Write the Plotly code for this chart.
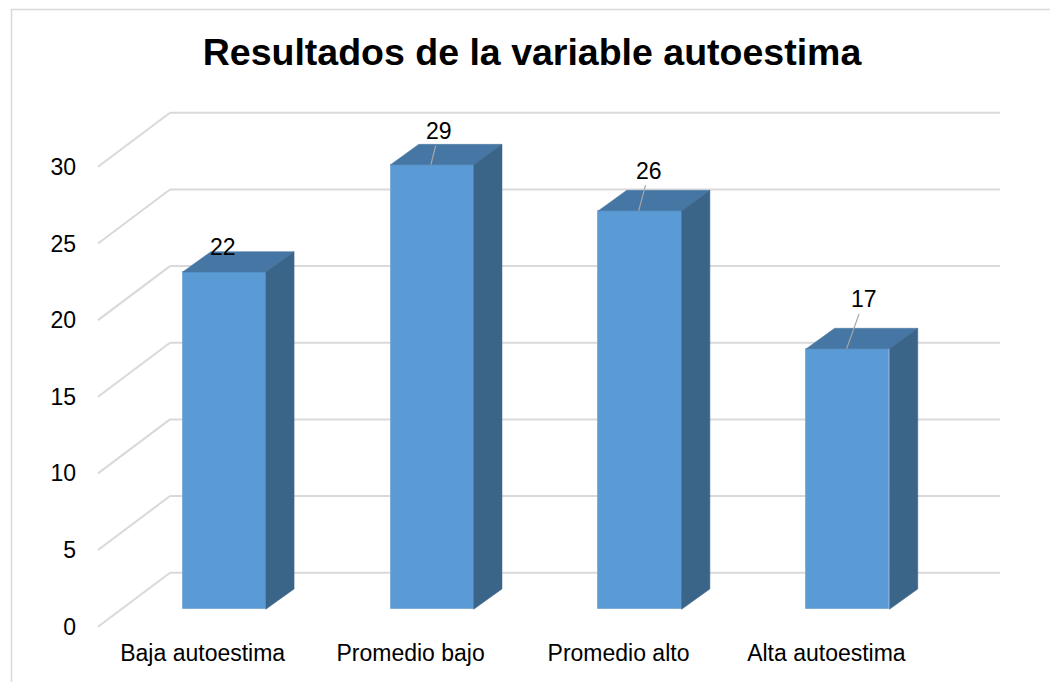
import plotly.graph_objects as go

# ---------------- data ----------------
categories = ["Baja autoestima", "Promedio bajo", "Promedio alto", "Alta autoestima"]
values = [22, 29, 26, 17]
y_ticks = [0, 5, 10, 15, 20, 25, 30]
title_text = "Resultados de la variable autoestima"

# ---------------- style / geometry ----------------
W, H = 1050, 682
M_L, M_R, M_T, M_B = 85, 0, 90, 52
PX_PER_UNIT = 15.33      # vertical pixels per value unit
Y0_PIX = 626.7           # pixel row of value 0 on the front plane
X0_PIX = 224.2           # pixel column of first category (bar centre)
PX_PER_CAT = 207.9       # pixels between categories

BAR_W = 0.40             # bar width, category units
BAR_BASE = 17.4 / PX_PER_UNIT           # bars sit a bit behind the front plane
BAR_DX = 28.3 / PX_PER_CAT              # bar depth (x)
BAR_DY = 20.4 / PX_PER_UNIT             # bar depth (y)
WALL_DY = 54.0 / PX_PER_UNIT            # back wall depth (y)
WALL_X0 = (170 - X0_PIX) / PX_PER_CAT   # back wall left edge
WALL_X1 = (1000 - X0_PIX) / PX_PER_CAT  # back wall right edge
FRONT_X0 = (98 - X0_PIX) / PX_PER_CAT   # front-left edge of floor grid
LABEL_SHIFT = -21.5 / PX_PER_CAT        # category labels sit at front floor edge

C_FRONT = "#5B9BD5"
C_TOP = "#4676A3"
C_SIDE = "#3A6488"
C_GRID = "#D9D9D9"
FONT = "Liberation Sans, Arial, sans-serif"

# data label offsets (pixels, relative to the front-top centre of each bar)
label_ax = [-1, 8.5, 10.6, 17.6]
label_ay = [-25, -33.7, -40, -49.3]
label_arrow = [False, True, True, True]

xr = [(M_L - X0_PIX) / PX_PER_CAT, (W - M_R - X0_PIX) / PX_PER_CAT]
yr = [(Y0_PIX - (H - M_B)) / PX_PER_UNIT, (Y0_PIX - M_T) / PX_PER_UNIT]

fig = go.Figure()

# front faces
xs = list(range(len(categories)))
fig.add_trace(go.Bar(
    x=xs, y=values, base=[BAR_BASE] * len(values), width=BAR_W,
    marker=dict(color=C_FRONT, line=dict(color="#7FAEDD", width=1)),
    hoverinfo="skip", showlegend=False,
))

# top and side faces
for i, v in enumerate(values):
    xl = i - BAR_W / 2
    xrt = i + BAR_W / 2
    top = BAR_BASE + v
    bot = BAR_BASE
    fig.add_trace(go.Scatter(
        x=[xl, xrt, xrt + BAR_DX, xl + BAR_DX, xl],
        y=[top, top, top + BAR_DY, top + BAR_DY, top],
        fill="toself", fillcolor=C_TOP, mode="lines",
        line=dict(color=C_TOP, width=0.5), hoverinfo="skip", showlegend=False,
    ))
    fig.add_trace(go.Scatter(
        x=[xrt, xrt + BAR_DX, xrt + BAR_DX, xrt, xrt],
        y=[bot, bot + BAR_DY, top + BAR_DY, top, bot],
        fill="toself", fillcolor=C_SIDE, mode="lines",
        line=dict(color=C_SIDE, width=0.5), hoverinfo="skip", showlegend=False,
    ))

# gridlines: back wall horizontals + diagonal side-wall lines
shapes = []
for t in y_ticks:
    shapes.append(dict(type="line", xref="x", yref="y", layer="below",
                       x0=WALL_X0, x1=WALL_X1, y0=t + WALL_DY, y1=t + WALL_DY,
                       line=dict(color=C_GRID, width=2)))
    shapes.append(dict(type="line", xref="x", yref="y", layer="below",
                       x0=FRONT_X0, x1=WALL_X0, y0=t, y1=t + WALL_DY,
                       line=dict(color=C_GRID, width=2)))

# chart frame (left and top edges visible)
pw = W - M_L - M_R
ph = H - M_T - M_B
shapes.append(dict(type="rect", xref="paper", yref="paper", layer="below",
                   x0=(11.5 - M_L) / pw, x1=(W + 20 - M_L) / pw,
                   y0=(H - M_B - (H + 20)) / ph, y1=(H - M_B - 9.5) / ph,
                   line=dict(color=C_GRID, width=1.5), fillcolor="rgba(0,0,0,0)"))

annotations = []
for i, v in enumerate(values):
    if label_arrow[i]:
        annotations.append(dict(
            x=i - 0.006, y=BAR_BASE + v, xref="x", yref="y", text=str(v),
            showarrow=True, arrowhead=0, arrowwidth=1.2, arrowcolor="#A6A6A6",
            ax=label_ax[i], ay=label_ay[i], standoff=0,
            font=dict(family=FONT, size=23, color="#000000"),
        ))
    else:
        annotations.append(dict(
            x=i, y=BAR_BASE + v, xref="x", yref="y", text=str(v),
            showarrow=False, xshift=label_ax[i], yshift=-label_ay[i],
            font=dict(family=FONT, size=23, color="#000000"),
        ))

fig.update_layout(
    width=W, height=H,
    margin=dict(l=M_L, r=M_R, t=M_T, b=M_B, pad=0),
    paper_bgcolor="white", plot_bgcolor="white",
    title=dict(text=title_text, x=532 / W, y=1 - 52 / H, xref="container",
               yref="container", xanchor="center", yanchor="middle",
               font=dict(family=FONT, size=37.5, color="#000000", weight="bold")),
    xaxis=dict(range=xr, tickvals=[i + LABEL_SHIFT for i in xs], ticktext=categories,
               showgrid=False, zeroline=False, showline=False, ticks="",
               ticklabelstandoff=7,
               tickfont=dict(family=FONT, size=23, color="#000000"), fixedrange=True),
    yaxis=dict(range=yr, tickvals=y_ticks, ticktext=[str(t) for t in y_ticks],
               showgrid=False, zeroline=False, showline=False, ticks="",
               ticklabelstandoff=8,
               tickfont=dict(family=FONT, size=23, color="#000000"), fixedrange=True),
    shapes=shapes, annotations=annotations, bargap=0,
    showlegend=False,
)

fig.write_html("out.html", config={"displayModeBar": False},
               post_script="document.body.style.margin='0px';")
